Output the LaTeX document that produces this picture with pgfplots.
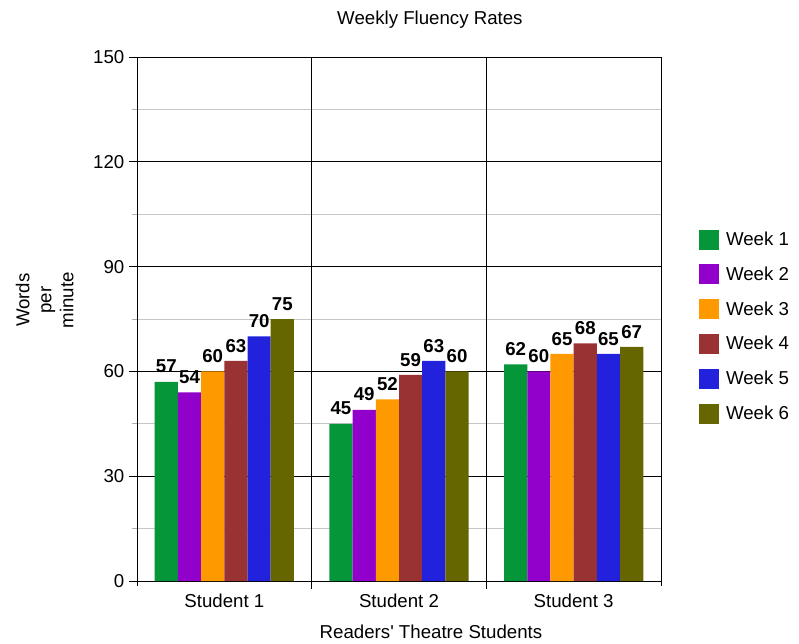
\documentclass[border=0pt]{standalone}
\usepackage{fontspec}
\setmainfont{Liberation Sans}[Ligatures=TeXOff]
\usepackage{pgfplots}
\pgfplotsset{compat=1.18}
\definecolor{w1}{HTML}{05963A}
\definecolor{w2}{HTML}{9200CC}
\definecolor{w3}{HTML}{FF9900}
\definecolor{w4}{HTML}{993333}
\definecolor{w5}{HTML}{2222DD}
\definecolor{w6}{HTML}{666600}
\begin{document}
\begin{tikzpicture}
\begin{axis}[
  at={(0,0)}, anchor=south west,
  width=393pt, height=393pt, scale only axis,
  font=\fontsize{14}{16.5}\selectfont,
  /pgf/number format/assume math mode=true,
  ybar=0pt, bar width=17.4pt,
  xmin=-0.5, xmax=2.5, ymin=0, ymax=150,
  xtick={0,1,2}, xticklabels={Student 1,Student 2,Student 3},
  xtick style={draw=none},
  ytick={0,30,60,90,120,150},
  minor ytick={15,45,75,105,135},
  ytick pos=left,
  ymajorgrids=true, yminorgrids=true,
  major grid style={black, line width=0.6pt},
  minor grid style={gray!45, line width=0.6pt},
  tick align=outside,
  major tick length=6pt, minor tick length=4pt,
  ytick style={black, line width=0.6pt},
  minor y tick style={gray!60},
  axis line style={black, line width=0.6pt},
  clip=false,
  every axis title shift=0pt,
  title={Weekly Fluency Rates},
  title style={at={(axis description cs:0.559,1.072)}, anchor=center},
  xlabel={Readers' Theatre Students},
  xlabel style={at={(axis description cs:0.561,-0.097)}, anchor=center},
  ylabel={Words\\per\\minute},
  ylabel style={at={(axis description cs:-0.176,0.536)}, anchor=center, align=center},
  nodes near coords,
  every node near coord/.append style={font=\fontsize{14}{16.5}\selectfont\bfseries, yshift=3pt},
  every axis plot/.append style={draw=none,
    legend image code/.code={\fill[##1] (0pt,-7.5pt) rectangle (15pt,7.5pt);}},
  legend style={at={(axis description cs:1.065,0.677)}, anchor=north west,
    draw=none, fill=none, row sep=10.5pt, font=\fontsize{14}{16.5}\selectfont,
    nodes={inner xsep=5pt}},
  legend cell align=left,
]
\addplot[fill=w1] coordinates {(0,57) (1,45) (2,62)};
\addplot[fill=w2] coordinates {(0,54) (1,49) (2,60)};
\addplot[fill=w3] coordinates {(0,60) (1,52) (2,65)};
\addplot[fill=w4] coordinates {(0,63) (1,59) (2,68)};
\addplot[fill=w5] coordinates {(0,70) (1,63) (2,65)};
\addplot[fill=w6] coordinates {(0,75) (1,60) (2,67)};
\legend{Week 1,Week 2,Week 3,Week 4,Week 5,Week 6}
\draw[black, line width=0.6pt] (axis cs:0.5,150) -- (axis cs:0.5,0) -- ([yshift=-6pt]axis cs:0.5,0);
\draw[black, line width=0.6pt] (axis cs:1.5,150) -- (axis cs:1.5,0) -- ([yshift=-6pt]axis cs:1.5,0);
\draw[black, line width=0.6pt] (axis cs:-0.5,0) -- ([yshift=-4pt]axis cs:-0.5,0);
\draw[black, line width=0.6pt] (axis cs:2.5,0) -- ([yshift=-4pt]axis cs:2.5,0);
\end{axis}
\pgfresetboundingbox
\useasboundingbox (-102.75pt,-46.5pt) rectangle (496.5pt,435.75pt);
\end{tikzpicture}
\end{document}
